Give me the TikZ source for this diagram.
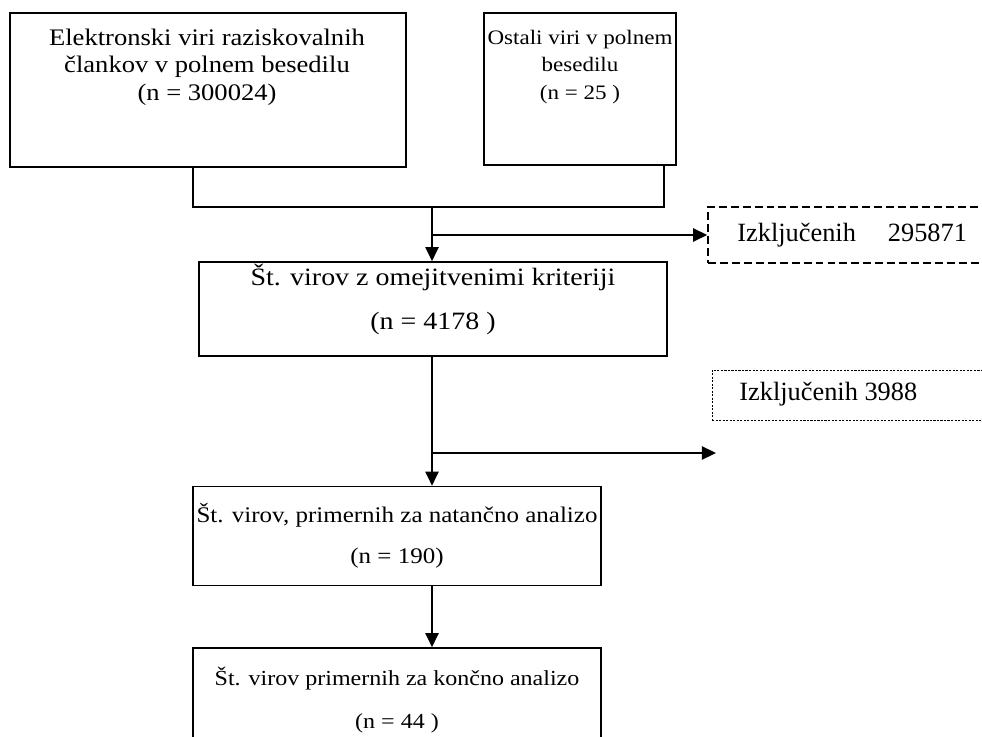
\documentclass[tikz,border=0pt]{standalone}
\usepackage{fontspec}
\setmainfont[FakeStretch=1.12]{Liberation Serif}
\newfontfamily\exclfont{Liberation Serif}
\usepackage{tikz}
\usetikzlibrary{arrows.meta, positioning, calc}

\begin{document}
\begin{tikzpicture}[
        x=0.02cm, y=-0.02cm,
        box/.style={draw, line width=0.95pt, inner sep=0pt},
        txt/.style={align=center, inner sep=0pt},
        excltxt/.style={font=\exclfont\fontsize{15}{16}\selectfont, anchor=west, inner sep=0pt},
        ln/.style={draw, line width=0.95pt},
        arr/.style={draw, line width=0.95pt, -{Triangle[length=8pt, width=7.5pt]}}
        ]

        \useasboundingbox (0,0) rectangle (982,736);
        \clip (0,0) rectangle (982,736);

        %% Source boxes
        \node[box, minimum width=7.92cm, minimum height=3.08cm] (elek) at (208,90) {};
        \node[txt, font=\fontsize{13.5}{15.6}\selectfont] (elektxt) at (207,67)
            {Elektronski viri raziskovalnih\\člankov v polnem besedilu\\(n = 300024)};
        \node[box, minimum width=3.84cm, minimum height=3.04cm] (ostali) at (580,89) {};
        \node[txt, font=\fontsize{11.7}{15.6}\selectfont] (ostalitxt) at (580,67)
            {Ostali viri v polnem\\besedilu\\(n = 25 )};

        %% Joining lines
        \coordinate (jl) at (193,207);
        \coordinate (jr) at (664,207);
        \coordinate (jm) at (432,207);
        \draw[ln] (elek.south -| jl) -- (jl) -- (jr) -- (ostali.south -| jr);

        %% Screening boxes
        \node[box, txt, font=\fontsize{14.2}{16}\selectfont,
            minimum width=9.36cm, minimum height=1.88cm] (krit) at (433,309)
            {Št. virov z omejitvenimi kriteriji\\[9pt](n = 4178 )\\[-2pt]};
        \node[box, txt, font=\fontsize{12.7}{15.6}\selectfont,
            minimum width=8.16cm, minimum height=1.98cm] (natan) at (397,536)
            {Št. virov, primernih za natančno analizo\\[7.6pt](n = 190)};
        \node[box, txt, font=\fontsize{12.2}{15.6}\selectfont,
            minimum width=8.16cm, minimum height=2.08cm] (konc) at (397,700)
            {Št. virov primernih za končno analizo\\[8.8pt](n = 44 )};

        %% Excluded boxes
        \node[draw, line width=0.95pt, dash pattern=on 4.5pt off 2.3pt,
            minimum width=5.84cm, minimum height=1.12cm] (excl1) at (854,235) {};
        \node[excltxt] (excl1txt) at (737,235) {Izključenih\hspace{0.64cm}295871};
        \node[draw, line width=0.45pt, dash pattern=on 1.2pt off 0.8pt,
            minimum width=5.76cm, minimum height=1cm] (excl2) at (856,395) {};
        \node[excltxt] (excl2txt) at (739,394) {Izključenih 3988};

        %% Arrows
        \draw[arr] (jm) -- (krit.north -| jm);
        \draw[arr] (jm |- excl1.west) -- (excl1.west);
        \coordinate (b2) at (432,453);
        \coordinate (b2end) at (716,453);
        \draw[arr] (krit.south -| jm) -- (natan.north -| jm);
        \draw[arr] (b2) -- (b2end);
        \draw[arr] (natan.south -| jm) -- (konc.north -| jm);

    \end{tikzpicture}
\end{document}
